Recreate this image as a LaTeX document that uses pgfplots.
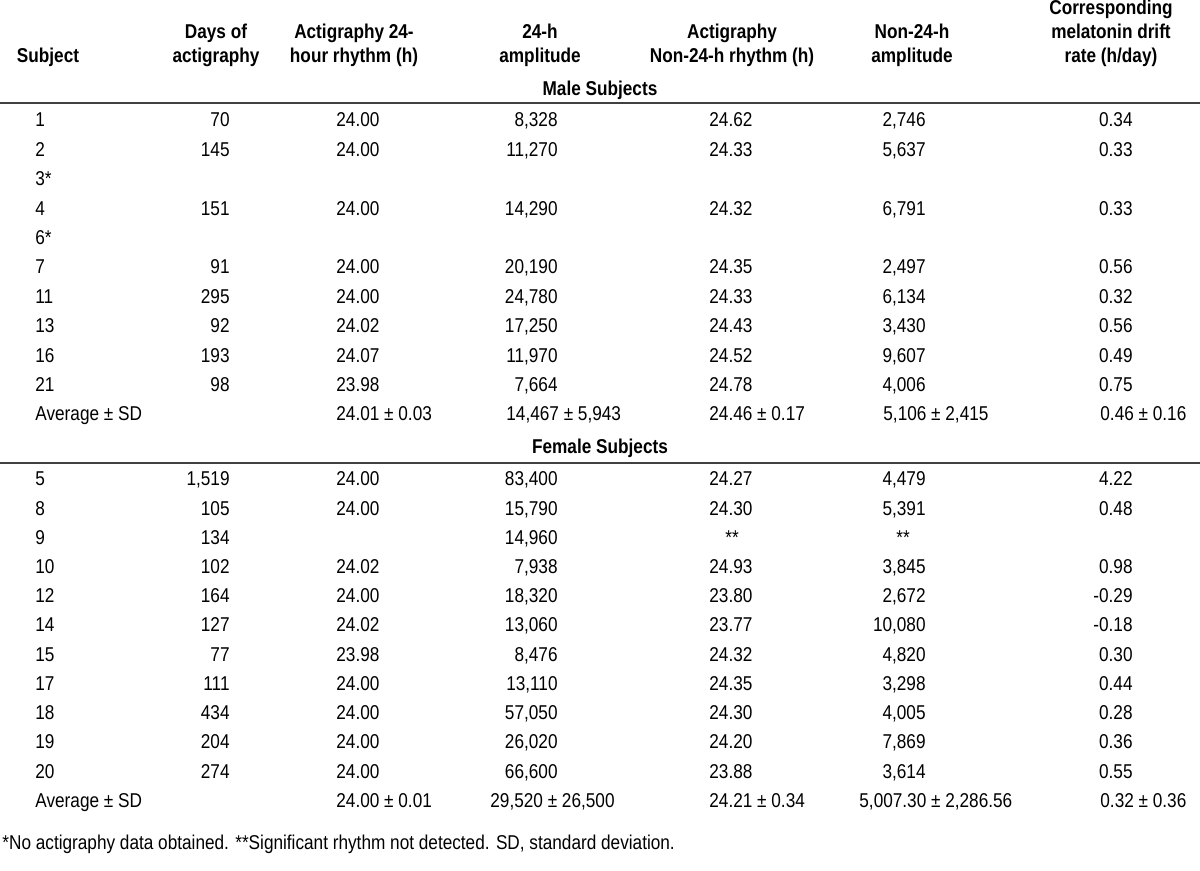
\documentclass[border=0pt]{standalone}
\usepackage{fontspec}
\setmainfont{Liberation Sans}[FakeStretch=0.86]
\usepackage{pgfplots}
\pgfplotsset{compat=1.18}
\tikzset{hd/.style={font=\bfseries\fontsize{10}{12}\selectfont, anchor=base, inner sep=0pt}}
\begin{document}
\begin{tikzpicture}
\begin{axis}[x=0.5pt, y=0.5pt, y dir=reverse,
  xmin=0, xmax=1200, ymin=0, ymax=871,
  hide axis, clip=false,
  cell/.style={draw=none, mark=none, nodes near coords, point meta=explicit symbolic,
    nodes near coords style={anchor=#1, inner sep=0pt, font=\fontsize{10}{12}\selectfont, text=black}},
]
\coordinate (BL) at (axis cs:0,871);
\coordinate (TR) at (axis cs:1200,0);
% rules
\addplot[black!75, line width=1.2pt] coordinates {(0,103) (1200,103)};
\addplot[black!75, line width=1.2pt] coordinates {(0,463) (1200,463)};
% headers
\node[hd] at (axis cs:48,63) {Subject};
\node[hd] at (axis cs:216,39) {Days of};
\node[hd] at (axis cs:216,63) {actigraphy};
\node[hd] at (axis cs:354,39) {Actigraphy 24-};
\node[hd] at (axis cs:354,63) {hour rhythm (h)};
\node[hd] at (axis cs:540,39) {24-h};
\node[hd] at (axis cs:540,63) {amplitude};
\node[hd] at (axis cs:732,39) {Actigraphy};
\node[hd] at (axis cs:732,63) {Non-24-h rhythm (h)};
\node[hd] at (axis cs:912,39) {Non-24-h};
\node[hd] at (axis cs:912,63) {amplitude};
\node[hd] at (axis cs:1111,15) {Corresponding};
\node[hd] at (axis cs:1111,39) {melatonin drift};
\node[hd] at (axis cs:1111,63) {rate (h/day)};
\node[hd] at (axis cs:600,96) {Male Subjects};
\node[hd] at (axis cs:600,454) {Female Subjects};
% Subject column
\addplot[cell=base west] table[meta=t] {
x y t
35 127 1
35 156.4 2
35 185.8 3*
35 215.2 4
35 244.6 6*
35 274 7
35 303.4 11
35 332.8 13
35 362.2 16
35 391.6 21
35 421 {Average ± SD}
35 486 5
35 515.2 8
35 544.4 9
35 573.6 10
35 602.8 12
35 632 14
35 661.2 15
35 690.4 17
35 719.6 18
35 748.8 19
35 778 20
35 807.2 {Average ± SD}
};
% Days of actigraphy
\addplot[cell=base east] table[meta=t] {
x y t
230 127 70
230 156.4 145
230 215.2 151
230 274 91
230 303.4 295
230 332.8 92
230 362.2 193
230 391.6 98
230 486 1,519
230 515.2 105
230 544.4 134
230 573.6 102
230 602.8 164
230 632 127
230 661.2 77
230 690.4 111
230 719.6 434
230 748.8 204
230 778 274
};
% Actigraphy 24-hour rhythm
\addplot[cell=base west] table[meta=t] {
x y t
336 127 24.00
336 156.4 24.00
336 215.2 24.00
336 274 24.00
336 303.4 24.00
336 332.8 24.02
336 362.2 24.07
336 391.6 23.98
336 421 {24.01 ± 0.03}
336 486 24.00
336 515.2 24.00
336 573.6 24.02
336 602.8 24.00
336 632 24.02
336 661.2 23.98
336 690.4 24.00
336 719.6 24.00
336 748.8 24.00
336 778 24.00
336 807.2 {24.00 ± 0.01}
};
% 24-h amplitude
\addplot[cell=base east] table[meta=t] {
x y t
558 127 8,328
558 156.4 11,270
558 215.2 14,290
558 274 20,190
558 303.4 24,780
558 332.8 17,250
558 362.2 11,970
558 391.6 7,664
558 486 83,400
558 515.2 15,790
558 544.4 14,960
558 573.6 7,938
558 602.8 18,320
558 632 13,060
558 661.2 8,476
558 690.4 13,110
558 719.6 57,050
558 748.8 26,020
558 778 66,600
};
\addplot[cell=base west] table[meta=t] {
x y t
506 421 {14,467 ± 5,943}
490 807.2 {29,520 ± 26,500}
};
% Actigraphy Non-24-h rhythm
\addplot[cell=base west] table[meta=t] {
x y t
709 127 24.62
709 156.4 24.33
709 215.2 24.32
709 274 24.35
709 303.4 24.33
709 332.8 24.43
709 362.2 24.52
709 391.6 24.78
709 421 {24.46 ± 0.17}
709 486 24.27
709 515.2 24.30
709 573.6 24.93
709 602.8 23.80
709 632 23.77
709 661.2 24.32
709 690.4 24.35
709 719.6 24.30
709 748.8 24.20
709 778 23.88
709 807.2 {24.21 ± 0.34}
};
\addplot[cell=base] table[meta=t] {
x y t
732 544.4 **
903 544.4 **
};
% Non-24-h amplitude
\addplot[cell=base east] table[meta=t] {
x y t
926 127 2,746
926 156.4 5,637
926 215.2 6,791
926 274 2,497
926 303.4 6,134
926 332.8 3,430
926 362.2 9,607
926 391.6 4,006
926 486 4,479
926 515.2 5,391
926 573.6 3,845
926 602.8 2,672
926 632 10,080
926 661.2 4,820
926 690.4 3,298
926 719.6 4,005
926 748.8 7,869
926 778 3,614
};
\addplot[cell=base west] table[meta=t] {
x y t
883 421 {5,106 ± 2,415}
859 807.2 {5,007.30 ± 2,286.56}
};
% Corresponding melatonin drift rate
\addplot[cell=base east] table[meta=t] {
x y t
1133 127 0.34
1133 156.4 0.33
1133 215.2 0.33
1133 274 0.56
1133 303.4 0.32
1133 332.8 0.56
1133 362.2 0.49
1133 391.6 0.75
1133 486 4.22
1133 515.2 0.48
1133 573.6 0.98
1133 602.8 -0.29
1133 632 -0.18
1133 661.2 0.30
1133 690.4 0.44
1133 719.6 0.28
1133 748.8 0.36
1133 778 0.55
};
\addplot[cell=base west] table[meta=t] {
x y t
1100 421 {0.46 ± 0.16}
1100 807.2 {0.32 ± 0.36}
};
\node[anchor=base west, inner sep=0pt, font=\fontsize{10}{12}\selectfont] at (axis cs:2,849)
  {*No actigraphy data obtained. **Significant rhythm not detected. SD, standard deviation.};
\end{axis}
\pgfresetboundingbox
\useasboundingbox (BL) rectangle (TR);
\end{tikzpicture}
\end{document}
